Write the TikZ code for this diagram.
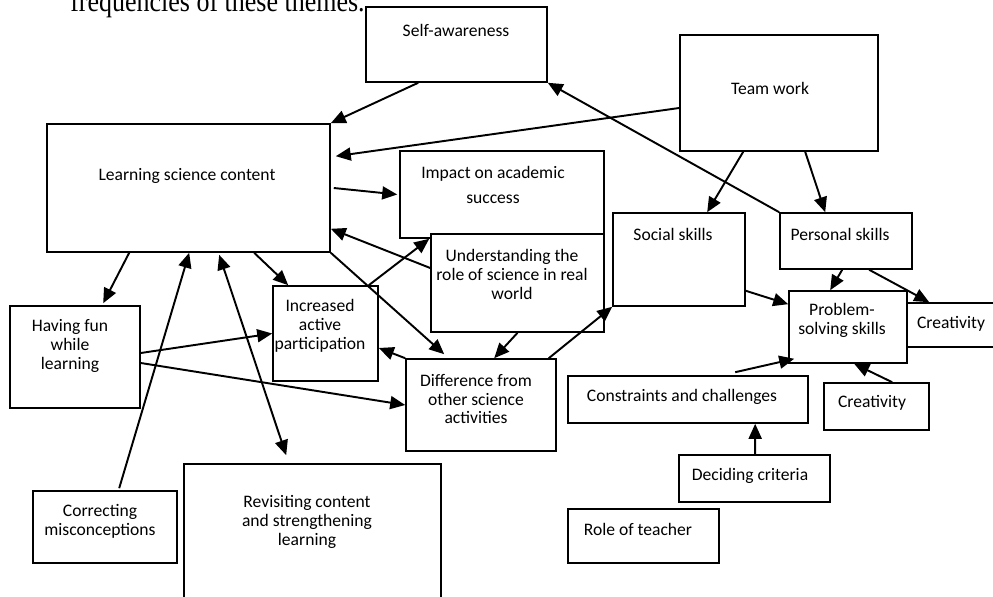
\documentclass[tikz,border=0pt]{standalone}
\usepackage{fontspec}
\setsansfont{Carlito}
\newfontfamily\headfont[FakeStretch=0.87]{Liberation Serif}
\usetikzlibrary{arrows.meta,fit}
\begin{document}
\begin{tikzpicture}[x=0.02cm,y=-0.02cm,
  box/.style={draw,fill=white,line width=0.9pt,inner sep=0pt},
  lbl/.style={font=\sffamily\fontsize{10}{10.8}\selectfont,align=center,inner sep=0pt},
  arr/.style={line width=1.1pt,-{Triangle[length=0.3cm,width=0.26cm]}},
  arrr/.style={line width=1.1pt,{Triangle[length=0.3cm,width=0.26cm]}-{Triangle[length=0.3cm,width=0.26cm]}}]
\useasboundingbox (0,0) rectangle (993,597);
\node[anchor=base east,inner sep=0pt,font=\headfont\fontsize{17}{17}\selectfont] (head) at (365,12) {frequencies of these themes.};
% theme boxes
\node[box,fit={(366,7)(547,82)}] (sa) {}; \node[lbl] (sat) at (456,30) {Self-awareness};
\node[box,fit={(680,35)(878,151)}] (team) {}; \node[lbl] (teamt) at (770,88) {Team work};
\node[box,fit={(47,124)(330,252)}] (lsc) {}; \node[lbl] (lsct) at (187,176) {Learning science content};
\node[box,fit={(400,151)(604,238)}] (imp) {};
\node[lbl,font=\sffamily\fontsize{10}{13.7}\selectfont] (impt) at (493,185) {Impact on academic\\success};
\node[box,fit={(431,234)(604,332)}] (und) {}; \node[lbl] (undt) at (512,274) {Understanding the\\role of science in real\\world};
\node[box,fit={(613,213)(745,306)}] (soc) {}; \node[lbl] (soct) at (673,234) {Social skills};
\node[box,fit={(780,213)(912,269)}] (pers) {}; \node[lbl] (perst) at (840,234) {Personal skills};
\node[box,fit={(789,291)(907,363)}] (prob) {}; \node[lbl] (probt) at (842,320) {Problem-\\solving skills};
\node[box,fit={(907,303)(995,347)}] (cre1) {}; \node[lbl] (cre1t) at (951,324) {Creativity};
\node[box,fit={(824,383)(929,430)}] (cre2) {}; \node[lbl] (cre2t) at (872,403) {Creativity};
\node[box,fit={(568,376)(808,423)}] (con) {}; \node[lbl] (cont) at (682,397) {Constraints and challenges};
\node[box,fit={(679,455)(830,502)}] (dec) {}; \node[lbl] (dect) at (750,476) {Deciding criteria};
\node[box,fit={(568,509)(719,563)}] (role) {}; \node[lbl] (rolet) at (638,529) {Role of teacher};
\node[box,fit={(273,286)(378,381)}] (inc) {}; \node[lbl] (inct) at (320,326) {Increased\\active\\participation};
\node[box,fit={(406,359)(556,451)}] (dif) {}; \node[lbl] (dift) at (476,399) {Difference from\\other science\\activities};
\node[box,fit={(10,306)(140,408)}] (fun) {}; \node[lbl] (funt) at (70,346) {Having fun\\while\\learning};
\node[box,fit={(33,491)(177,563)}] (cor) {}; \node[lbl] (cort) at (100,521) {Correcting\\misconceptions};
\node[box,fit={(184,464)(441,602)}] (rev) {}; \node[lbl] (revt) at (307,522) {Revisiting content\\and strengthening\\learning};
% links
\draw[arr] ([xshift=1.06cm]sa.south west) -- (lsc.north east);
\draw[arr] ([yshift=-0.3cm]team.west) -- ([xshift=0.1cm,yshift=-0.66cm]lsc.north east);
\draw[arr] (pers.north west) -- (sa.south east);
\draw[arr] ([xshift=1.28cm]team.south west) -- ([xshift=1.9cm]soc.north west);
\draw[arr] ([xshift=2.52cm]team.south west) -- ([xshift=0.92cm]pers.north west);
\draw[arr] ([xshift=0.06cm]lsc.east) -- ([xshift=-0.04cm]imp.west);
\draw[arr] ([yshift=0.3cm]und.west) -- ([yshift=0.48cm]lsc.south east);
\draw[arr] ([xshift=-0.2cm]inc.north east) -- ([xshift=0.6cm]imp.south west);
\draw[arr] ([xshift=4.16cm]lsc.south west) -- ([xshift=0.32cm]inc.north west);
\draw[arr] (lsc.south east) -- ([xshift=0.78cm,yshift=0.08cm]dif.north west);
\draw[arr] ([xshift=1.66cm]lsc.south west) -- ([xshift=1.88cm,yshift=0.04cm]fun.north west);
\draw[arr] ([xshift=1.74cm,yshift=0.04cm]cor.north west) -- ([xshift=2.86cm]lsc.south west);
\draw[arrr] ([xshift=3.46cm,yshift=-0.04cm]lsc.south west) -- ([xshift=2.06cm,yshift=0.16cm]rev.north west);
\draw[arr] ([yshift=0.08cm]fun.east) -- (inc.west);
\draw[arr] ([yshift=-0.12cm]fun.east) -- (dif.west);
\draw[arr] (dif.north west) -- ([yshift=-0.29cm]inc.east);
\draw[arr] (und.south) -- ([xshift=1.78cm]dif.north west);
\draw[arr] ([xshift=-0.16cm]dif.north east) -- (soc.south west);
\draw[arr] ([yshift=0.32cm]soc.south east) -- ([yshift=-0.28cm]prob.north west);
\draw[arr] ([xshift=1.26cm]pers.south west) -- ([xshift=0.84cm]prob.north west);
\draw[arr] ([xshift=1.8cm]pers.south west) -- ([xshift=0.46cm]cre1.north west);
\draw[arr] ([xshift=3.36cm,yshift=0.06cm]con.north west) -- ([xshift=0.12cm,yshift=0.1cm]prob.south west);
\draw[arr] ([xshift=1.38cm]cre2.north west) -- ([xshift=1.32cm]prob.south west);
\draw[arr] ([xshift=1.54cm]dec.north west) -- ([xshift=3.76cm]con.south west);
\end{tikzpicture}
\end{document}
